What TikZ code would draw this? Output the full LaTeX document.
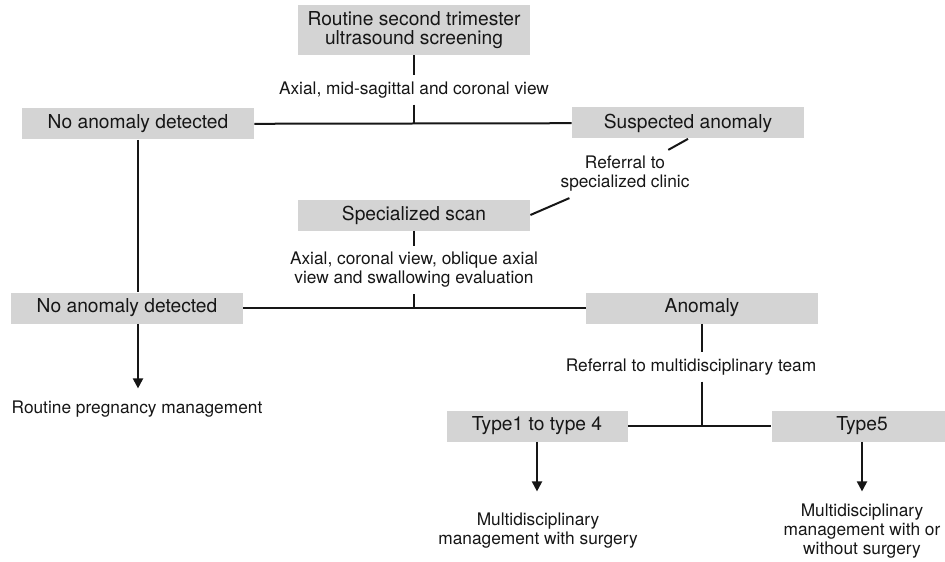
\documentclass[tikz,border=0pt]{standalone}
\usepackage{fontspec}
\setmainfont{TeX Gyre Heros}
\usepackage{tikz}
\usetikzlibrary{
  arrows.meta,
  positioning
}
\definecolor{boxgray}{RGB}{212,212,212}
\definecolor{inkblack}{RGB}{22,22,22}
\newcommand{\boxfont}{\fontsize{9.6}{9.3}\selectfont}
\newcommand{\labfont}{\fontsize{8.65}{9.5}\selectfont}
\tikzset{
  stagebox/.style={fill=boxgray,text=inkblack,align=center,inner sep=0pt,
    minimum width=116pt,minimum height=15.5pt,font=\boxfont},
  typebox/.style={stagebox,minimum width=90.5pt},
  lab/.style={text=inkblack,align=center,inner sep=3pt,font=\labfont},
  link/.style={line width=1pt,draw=inkblack},
  linkarrow/.style={link,-{Triangle[length=5pt,width=5pt]},shorten >=3pt}
}

\begin{document}
\begin{tikzpicture}[x=0.5pt,y=-0.5pt]
  \useasboundingbox (0,0) rectangle (945,561);
  % first screening
  \node[stagebox,minimum height=25pt] (screen) at (414,30) {Routine second trimester\\ultrasound screening};
  \node[lab] (view1) at (414,90) {Axial, mid-sagittal and coronal view};
  \node[stagebox] (noanom1) at (138,124) {No anomaly detected};
  \node[stagebox] (suspect) at (688,123) {Suspected anomaly};
  \node[lab] (clinic) at (625,174) {Referral to\\specialized clinic};
  % specialized scan
  \node[stagebox] (spec) at (414,215) {Specialized scan};
  \node[lab] (view2) at (414,270) {Axial, coronal view, oblique axial\\view and swallowing evaluation};
  \node[stagebox] (noanom2) at (127,308) {No anomaly detected};
  \node[stagebox] (anomaly) at (702,308) {Anomaly};
  \node[lab] (routine) at (137,409) {Routine pregnancy management};
  \node[lab] (mdt) at (691,367) {Referral to multidisciplinary team};
  % types
  \node[typebox] (type1) at (537,426) {Type1 to type 4};
  \node[typebox] (type5) at (862,426) {Type5};
  \node[lab] (out1) at (538,531) {Multidisciplinary\\management with surgery};
  \node[lab] (out5) at (862,531) {Multidisciplinary\\management with or\\without surgery};

  \draw[link] (screen)--(view1);
  \draw[link] (view1)--(screen |- noanom1);
  \draw[link] (noanom1)--(suspect);
  \draw[link] (suspect.south)--(clinic);
  \draw[link] (clinic)--(spec.east);
  \draw[link] (noanom1.south)--(noanom1.south |- noanom2.north);
  \draw[link] (spec)--(view2);
  \draw[link] (view2)--(spec |- anomaly);
  \draw[link] (noanom2)--(anomaly);
  \draw[linkarrow] (noanom1.south |- noanom2.south)--(noanom1.south |- routine.north);
  \draw[link] (anomaly.south)--(anomaly.south |- mdt.north);
  \draw[link] (anomaly.south |- mdt.south)--(anomaly.south |- type1);
  \draw[link] (type1)--(type5);
  \draw[linkarrow] (type1.south)--(type1.south |- out5.north);
  \draw[linkarrow] (type5.south)--(type5.south |- out5.north);
\end{tikzpicture}
\end{document}
